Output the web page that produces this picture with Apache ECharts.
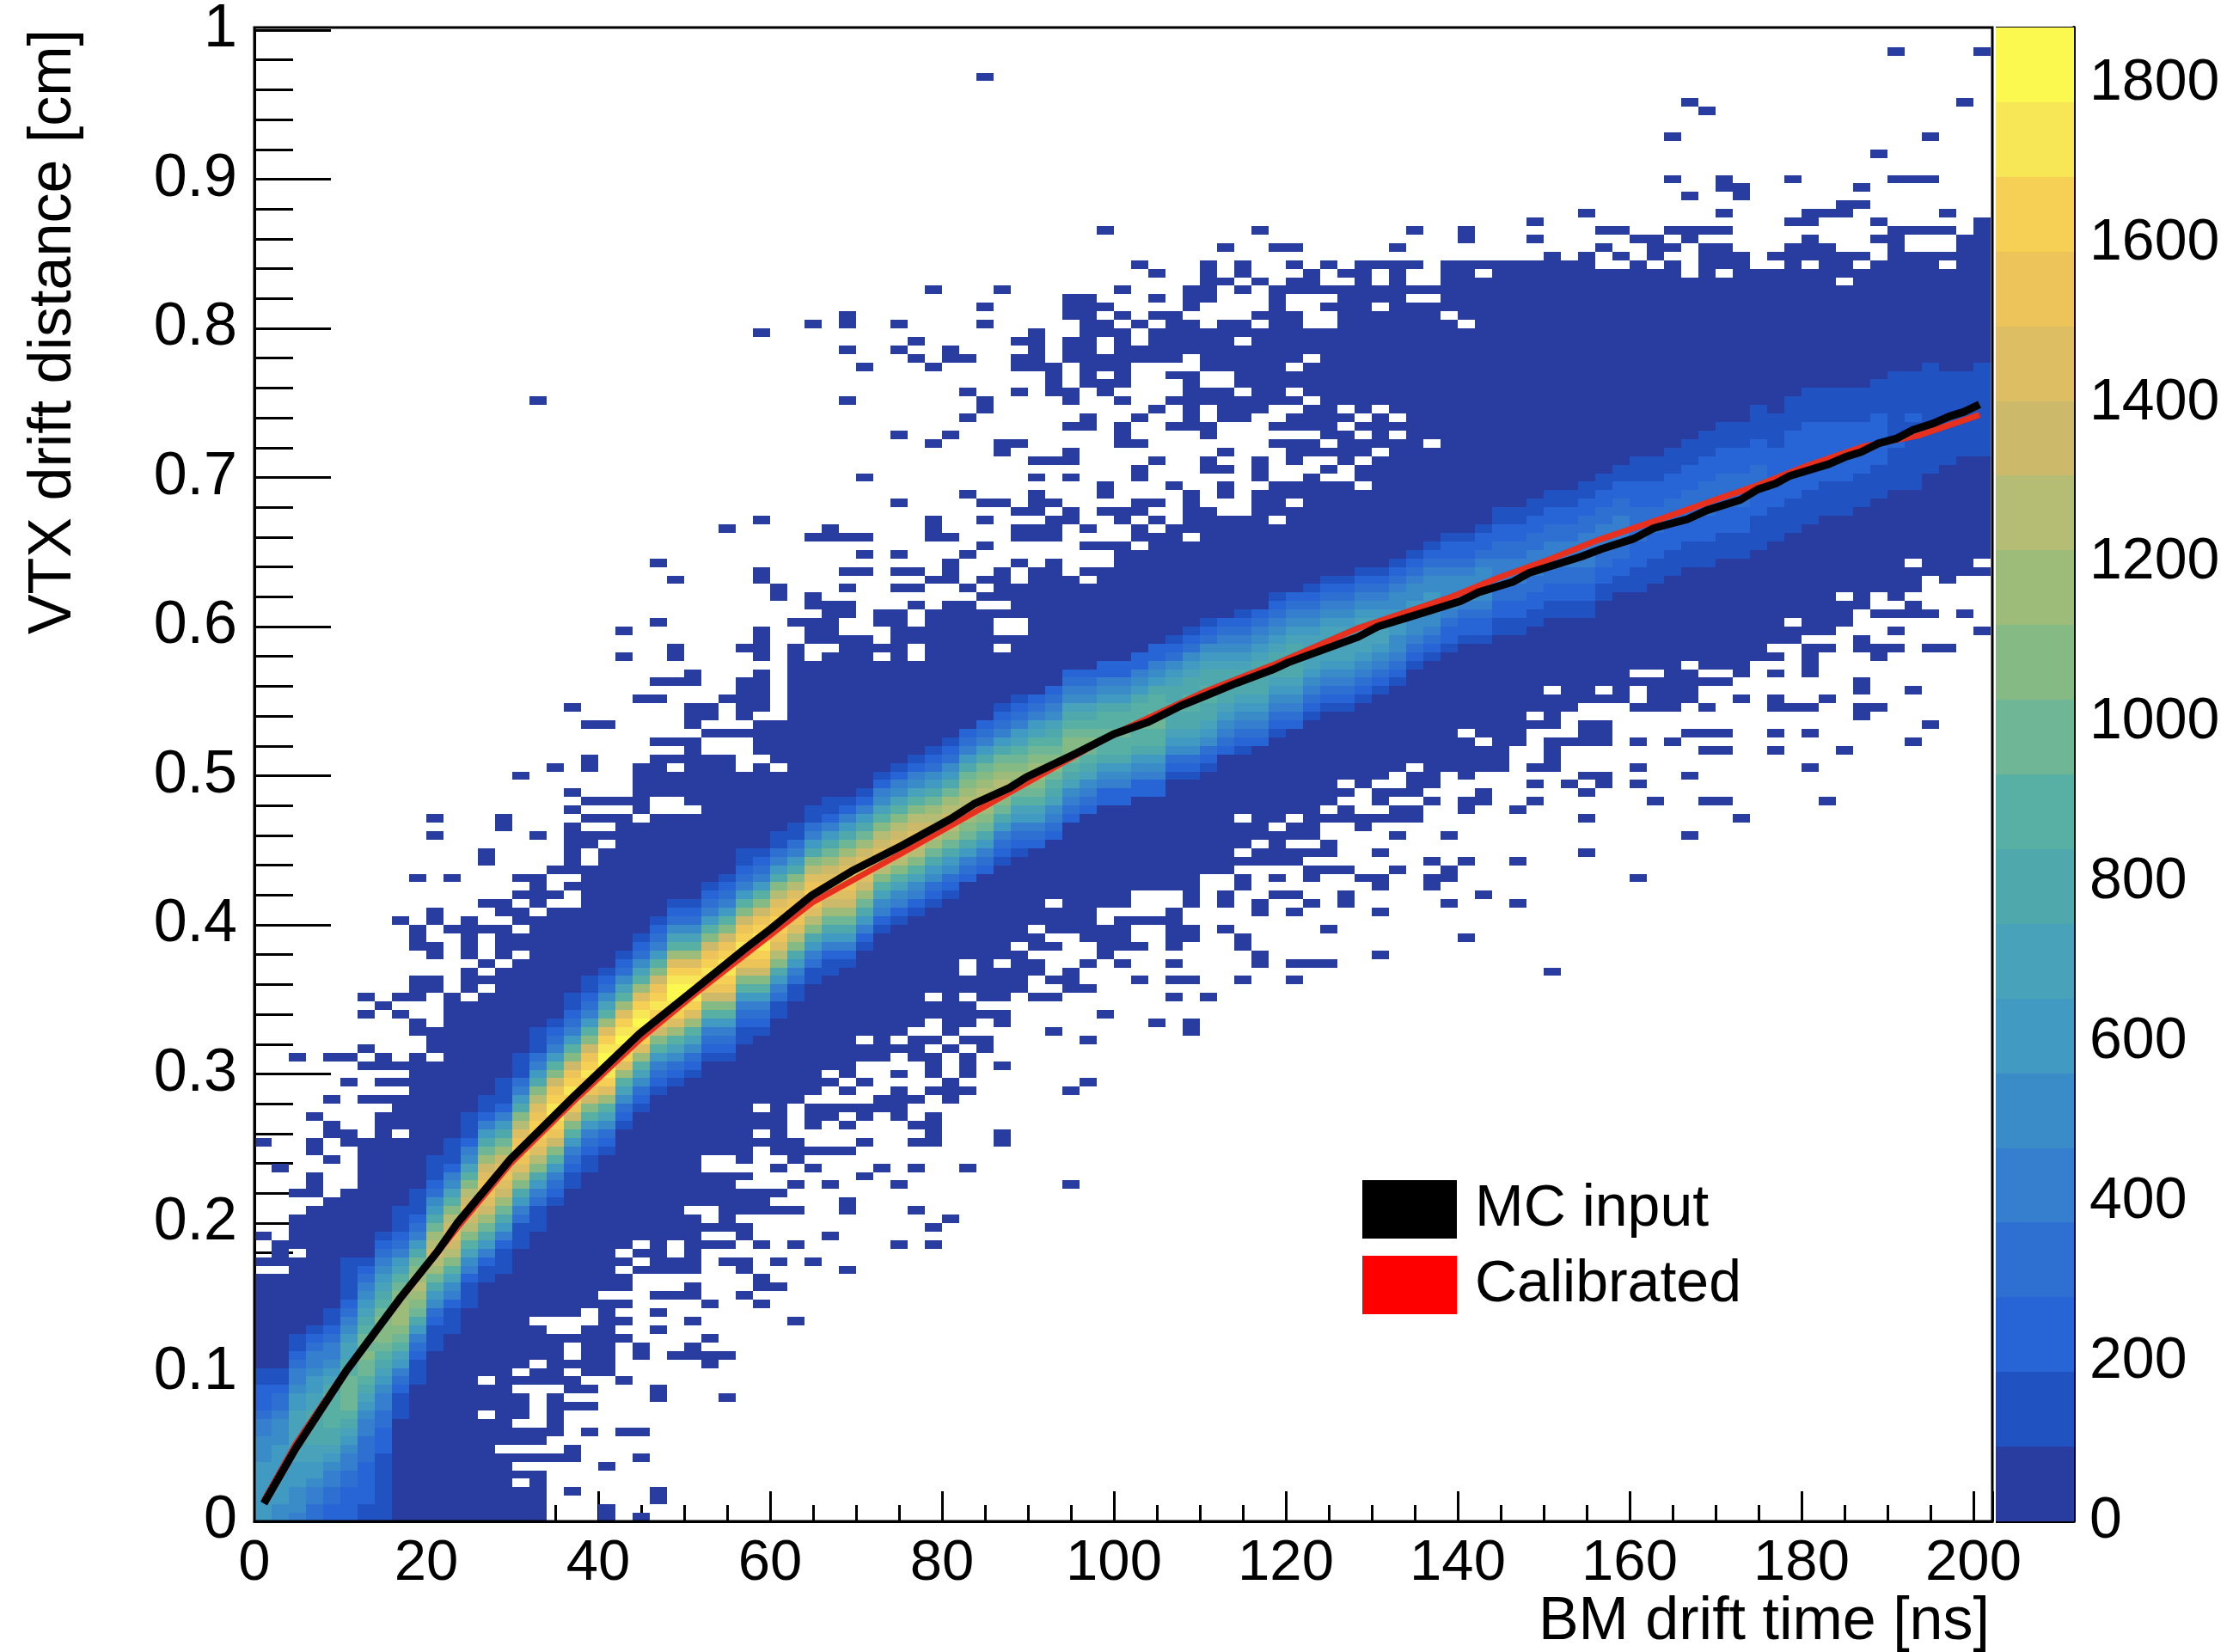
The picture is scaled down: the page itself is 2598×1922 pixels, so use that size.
<!DOCTYPE html>
<html><head><meta charset="utf-8">
<style>html,body{margin:0;padding:0;background:#fff}#c{width:2598px;height:1922px}</style>
<script src="https://cdn.jsdelivr.net/npm/echarts@6/dist/echarts.min.js"></script>
</head><body><div id="c"></div>
<script>
// histogram binning: 2 ns columns, 175 rows over 0..1 cm, 20 colour contours of 93.5 counts
const colWidth = 2, rowCount = 175, contour = 93.5;
const palette = ['#283D9F','#2052C2','#2764D6','#2E70D2','#357FCE','#3A8CC9','#419AC2','#47A2BA','#4FA8AC','#58AFA3',
 '#6EB696','#85BA85','#9DBC7A','#B5BC74','#CDB96A','#DDBE62','#EDC459','#F6D054','#F7E655','#FBF950'];
const xTicks = [0,20,40,60,80,100,120,140,160,180,200];
const zTicks = [0,200,400,600,800,1000,1200,1400,1600,1800];

// lowest / highest row of the solid lowest-contour area, per column
const zeroLow = [0,0,0,0,0,0,0,0,0,0,0,0,0,0,0,0,0,13,15,18,18,27,29,29,29,30,32,30,33,36,38,43,43,43,43,54,54,55,55,56,55,58,59,58,62,70,69,69,68,72,72,74,74,74,74,76,76,77,77,77,77,78,78,82,81,82,82,82,84,84,83,84,88,91,93,93,95,96,96,96,98,95,96,98,98,98,99,101,101,103,104,104,105,107,109,108,109,110,110,111,111];
const zeroHigh = [28,28,35,36,36,39,44,47,49,52,57,61,64,65,68,68,70,71,72,76,78,83,87,88,87,88,89,89,88,93,93,99,103,102,103,103,102,106,104,105,107,107,108,109,109,110,111,110,110,112,113,113,115,116,117,146,145,144,144,144,145,145,144,144,144,144,144,144,144,147,147,145,147,146,146,147,147,147,146,145,146,146,147,146,148,148,148,146,147,148,149,149,148,148,147,150,148,148,148,150,152];

// isolated occupied cells [column,row]
const strayCells = [
[0,33],[1,32],[0,30],[1,30],[1,31],[0,44],[1,41],[2,38],[3,38],[3,39],[3,40],[3,43],[3,44],[4,37],[4,42],[4,45],[4,46],[5,44],[5,45],[3,47],[4,49],[6,49],[7,49],[5,51],[7,51],[8,51],[6,53],[7,53],[8,53],[9,53],[2,54],[4,54],[5,54],[7,54],[9,54],[6,55],[9,57],[9,58],[6,59],[8,59],[7,60],[6,61],[8,61],[9,61],[9,62],[10,62],[9,63],[10,63],[10,66],[10,67],[12,66],[12,67],[12,68],[9,67],[9,68],[9,69],[11,69],[12,69],[13,69],[14,69],[8,70],[10,70],[10,71],[12,70],[15,70],[14,71],[15,71],[13,72],[14,72],[16,72],[15,73],[16,73],[16,74],[17,73],[18,74],[9,75],[11,75],[15,75],[16,75],[17,76],[18,76],[18,77],[13,77],[13,78],[18,78],[18,79],[18,80],[18,81],[19,79],[19,80],[20,80],[10,80],[16,80],[14,81],[10,82],[14,82],[19,82],[20,82],[18,83],[19,84],[20,84],[18,85],[21,84],[15,87],[17,88],[19,88],[22,88],[19,89],[23,89],[24,89],[25,89],[26,89],[25,90],[23,91],[24,91],[25,91],[26,92],[27,92],[28,92],[29,92],[19,93],[20,93],[25,93],[25,94],[26,94],[25,95],[26,95],[18,95],[22,96],[23,96],[27,96],[28,96],[28,95],[28,94],[29,96],[29,95],[29,97],[28,97],[28,98],[29,98],
[23,98],[24,98],[25,98],[25,99],[29,99],[21,101],[24,101],[24,102],[28,102],[29,102],[29,101],[21,104],[29,103],[29,104],[23,105],[30,108],[24,110],[29,110],[23,112],
[31,100],[31,101],[31,102],[32,103],[32,104],[33,103],[33,104],[32,105],[33,105],[31,105],[32,107],[32,108],[33,106],[33,107],[34,106],[34,107],[34,109],[30,109],[34,111],[35,111],[29,111],[35,113],[32,115],[33,115],[34,115],[35,115],[33,116],[27,116],[29,117],
[36,105],[36,106],[38,103],[38,107],[39,106],[37,109],[38,109],[39,110],[40,110],[38,111],[37,111],[40,111],[40,112],[41,109],[42,110],[43,110],[43,111],[44,112],[45,111],[46,112],[48,111],[37,113],[41,113],[42,114],[39,115],[39,116],[39,117],[40,115],[44,115],[44,116],[45,115],[45,116],[46,115],[46,116],[47,117],[47,118],[46,117],[42,117],[48,114],[49,114],[50,114],[48,116],[50,117],[50,118],[51,115],[51,116],[52,117],[51,118],
[29,139],[32,140],[34,140],[34,141],[37,140],[42,140],[34,137],[37,137],[38,138],[38,136],[40,136],[40,137],[41,136],[35,135],[39,135],[34,131],[41,132],[42,130],[42,131],[41,129],[37,127],[40,127],[39,126],[42,142],[39,144],[43,144],[42,119],[43,119],[41,120],[37,119],[35,122],[16,131],[42,169],
[43,125],[43,126],[44,126],[44,118],[45,118],[44,132],[44,135],[44,138],[45,119],[45,120],[45,122],[45,124],[46,124],[47,124],[47,125],[45,135],[45,136],[44,136],[45,137],[45,138],[45,139],[46,119],[46,132],[46,133],[46,134],[46,135],[47,118],[47,122],[47,128],[47,131],[47,132],[47,136],[47,137],[47,138],[47,141],[47,142],[47,143],[48,128],[48,129],[48,133],[48,134],[48,135],[48,136],[48,137],[48,138],[48,139],[48,140],[48,141],[48,142],[48,143],[49,118],[49,120],[49,121],[49,132],[49,133],[49,135],[49,136],[49,139],[49,140],[49,142],[49,151],[50,126],[50,127],[50,128],[50,131],[50,133],[50,134],[50,135],[50,136],[50,137],[50,138],[50,139],[50,141],[50,144],[51,118],[51,119],[51,122],[51,123],[51,126],[51,129],[51,136],[51,137],[51,140],[51,147],[52,119],[52,124],[52,130],[52,136],[52,137],[52,138],[52,139],[52,141],[52,143],[52,146],[53,121],[53,128],[53,131],[53,134],[53,136],[53,137],[53,138],[53,139],[53,140],[53,141],[54,118],[54,119],[54,120],[54,128],[54,129],[54,130],[54,131],[54,132],[54,133],[54,134],[54,137],[54,138],[54,139],[54,140],[54,142],[54,143],[54,144],[55,147],
[56,149],[58,151],[59,149],[60,149],[66,149],[67,151],[70,150],[70,151],[57,146],[57,147],[58,145],[60,147],[61,146],[62,147],[63,146],[64,145],[64,146],[64,147],[65,147],[66,145],[66,146],[66,147],[67,147],[71,147],[73,147],[74,147],[74,150],[74,152],[75,148],[77,148],[77,153],[78,149],[78,151],[79,146],[79,148],[79,151],[80,147],[80,150],[81,148],[81,149],[81,150],[82,149],[82,151],[82,157],[83,150],[83,151],[83,155],[83,166],[84,151],[84,165],[84,149],[85,149],[85,151],[85,153],[85,156],[85,157],[86,155],[86,156],[88,148],[89,149],[89,152],[89,157],[90,150],[90,152],[90,153],[91,153],[92,153],[92,154],[93,154],[93,156],[94,150],[94,152],[94,160],[95,151],[95,157],[95,172],[96,151],[96,157],[97,151],[97,157],[97,162],[98,151],[98,153],[99,166],[100,172],[82,162],[82,149],
// lower side
[14,4],[17,10],[17,11],[17,12],[18,7],[18,8],[17,7],[18,3],[23,2],[23,3],[20,0],[20,1],[22,0],[22,7],[20,6],[19,10],[21,10],[22,10],[19,13],[17,13],[18,13],[19,15],[19,17],[20,17],[21,16],[21,21],[21,23],[21,25],[22,19],[22,20],[23,14],[23,15],[23,22],[23,24],[23,26],[24,19],[24,26],[25,19],[25,20],[25,23],[25,26],[25,27],[25,29],[26,18],[26,19],[26,21],[26,25],[27,14],[27,19],[28,26],[28,29],[28,30],[29,25],[29,27],[29,28],[29,32],[30,27],[30,30],[30,36],[31,23],[31,32],[31,36],[31,39],[31,42],[32,30],[32,41],[33,33],[33,39],[34,29],[34,36],[34,37],[35,40],[36,41],[37,32],[37,39],[38,36],[38,41],[39,32],[39,34],[40,35],[41,41],[47,39],[30,41],
[35,44],[35,47],[35,48],[35,51],[36,48],[36,49],[37,47],[37,48],[37,49],[37,50],[37,52],[38,44],[38,46],[38,49],[38,54],[39,44],[39,45],[39,46],[39,47],[39,50],[39,52],[39,53],[39,54],[40,49],[40,50],[40,51],[41,50],[41,52],[41,53],[41,54],[41,56],[42,55],[42,56],[43,44],[43,45],[43,53],[45,61],[45,64],[45,65],[45,67],[45,68],[46,57],[46,61],[46,63],[46,67],[47,50],[47,62],[47,63],[47,64],[48,51],[48,56],[48,62],[48,65],[49,59],[49,66],[49,67],[49,68],[49,69],[50,65],[50,67],[50,68],[50,69],[50,70],[51,63],[51,67],[51,70],[52,58],[52,70],[53,61],[53,63],[53,65],[53,67],[53,68],[53,69],[53,70],[53,71],[54,57],[54,58],[54,63],[54,68],[54,69],[54,72],[54,73],[55,61],
[56,69],[56,72],[56,73],[57,63],[57,67],[57,68],[57,74],[57,75],[58,65],[58,66],[58,71],[58,72],[59,73],[59,75],[60,63],[60,65],[60,71],[60,73],[61,65],[61,72],[61,75],[61,76],[62,65],[62,69],[62,76],[63,72],[63,73],[63,76],[64,75],[65,66],[65,71],[65,74],[65,75],[65,78],[66,76],[66,80],[68,74],[68,75],[68,77],[69,72],[69,75],[69,76],[69,80],[70,68],[70,77],[71,73],[73,72],[73,77],[73,83],[74,84],[74,88],[75,64],[75,88],[75,89],[75,90],[75,91],[76,91],[77,78],[77,82],[77,85],[77,87],[77,91],[77,92],[77,93],[78,86],[78,87],[78,91],[78,92],[76,86],[74,86],[80,75],[80,86],[80,88],[80,91],[80,95],[81,84],[81,95],[82,91],[82,95],[83,80],[83,87],[83,92],[83,96],[83,97],[84,84],[84,90],[84,92],[84,95],[85,84],[85,90],[85,92],[86,82],[86,96],[87,103],[88,90],[88,92],[88,95],[88,96],[88,99],[89,95],[90,88],[90,92],[90,95],[90,99],[90,100],[90,101],[90,102],[91,84],[91,96],[91,102],[92,90],[93,94],[93,95],[93,97],[93,98],[93,102],[93,103],[94,95],[94,101],[94,102],[94,106],[95,102],[95,104],[95,106],[96,91],[96,97],[96,106],[96,107],[97,93],[97,102],[97,106],[98,102],[99,106],[100,104],[82,91],[82,95],[78,93]
];

// empty cells inside the solid area [column,row]
const holeCells = [
[1,29],[2,31],[5,39],[5,45],[6,45],[8,45],[10,54],[12,61],[13,62],[13,64],[14,65],[15,66],[17,72],[18,72],[20,79],[21,83],[22,82],[23,83],[23,84],[24,83],[24,84],[25,83],[13,12],[13,16],[14,8],[15,8],[16,8],[15,6],[15,4],[16,6],[16,12],[16,13],[16,14],[15,11],[16,11],[15,15],[16,15],[17,15],[15,17],[16,18],[16,23],[17,22],[17,23],[18,22],[18,23],[18,19],[18,20],[18,17],[19,23],[19,24],[20,26],[21,31],[21,29],[22,30],[22,32],[24,31],[24,32],[26,33],[27,31],[25,36],[26,35],[26,36],[28,35],[26,33],[27,33],[26,42],[27,42],[26,41],[27,41],[28,41],[28,39],[29,39],[29,40],[29,41],[29,42],[29,43],[30,39],[30,40],[30,42],[29,45],[29,48],[31,45],[31,46],[31,47],[31,48],[32,44],[32,45],[32,49],[33,44],[33,45],[33,46],[33,49],[33,50],[33,52],[34,44],[34,45],[34,47],[34,49],[34,51],[35,56],[37,56],[38,57],[39,57],[39,58],[39,61],[40,56],[41,55],[41,61],[41,64],[41,65],[42,60],[43,60],[43,65],[44,67],[46,72],[49,70],[49,71],[50,71],[51,73],
[25,92],[26,90],[26,91],[27,90],[27,91],[28,88],[28,89],[29,89],[29,94],[30,88],[38,101],[38,102],[36,101],[32,101],[32,102],[33,102],[38,105],[42,107],[43,107],[43,105],[43,104],[44,104],[44,105],[43,102],[47,111],[48,110],[49,112],[51,114],[54,115],[52,116],[36,103],
[55,140],[55,141],[55,142],[56,141],[56,142],[56,143],[56,144],[57,141],[57,142],[57,143],[58,142],[58,143],[58,144],[58,140],[60,142],[60,143],[61,142],[61,143],[62,143],[61,140],[61,141],[62,140],[62,141],[65,142],[67,143],[68,143],[69,141],[70,140],[57,138],[61,136],[60,135],[55,133],[55,134],[56,133],[56,134],[57,132],[60,132],[59,129],[59,130],[60,130],[61,131],[55,129],[55,130],[58,128],[58,129],[63,130],[64,129],[65,130],[66,129],[63,128],[59,127],[60,127],[61,127],[56,127],[56,128],[56,126],[57,126],[57,127],[57,128],[58,126],[58,127],[64,127],[66,127],[62,126],[68,126],[55,125],[55,126],[57,122],[57,123],[57,124],[57,125],[58,125],[59,124],[59,125],[65,125],[64,124],[61,124],[62,124],[56,124],[60,123],[61,123],[59,122],[59,123],[60,122],[62,122],[63,122],[63,123],[55,121],[55,122],[56,122],[57,121],[58,121],[64,121],[55,120],[56,119],[56,118],[57,118],[57,119],[57,120],[55,119],[60,119],[59,117],
[71,146],[71,147],[83,146],[85,146],[88,147],[90,147],[92,145],[93,147],[98,147],[94,148],[94,149],
[45,69],[63,84],[63,86],[64,84],[64,85],[64,83],[65,83],[65,86],[66,84],[66,86],[66,87],[67,84],[67,88],[68,85],[69,84],[69,85],[69,86],[69,87],[70,85],[70,86],[70,92],[71,86],[71,87],[71,91],[62,83],[62,80],[62,81],[57,82],[60,82],[59,81],[58,79],[60,79],[61,79],[57,78],[74,94],[75,97],[80,96],[80,97],[80,99],[81,99],[84,99],[85,99],[83,100],[88,102],[87,103],[89,105],[92,108],[97,110],[96,112],[100,112],[78,97]
];

// contour level per row for the populated band: first row and one character per row (0-9,a-j = contour)
const bandStart = [0,0,0,0,0,0,0,0,12,16,20,22,25,28,29,32,34,37,39,41,43,46,48,50,51,52,54,54,56,57,59,61,63,64,65,67,69,70,71,72,73,75,76,77,78,79,80,82,83,84,84,85,85,87,87,88,90,90,91,92,93,94,95,95,96,97,98,100,101,102,103,103,104,104,105,106,106,106,108,109,109,110,111,112,112,113,113,114,115,116,117,118,118,119,120,121,121,123,124,125,125];
const bandLevels = [
"666666655544322211","556666666555433211","4555666777777665443211","33445667788887766544321","2233445678899998765443211","2222334456789aaaa98776543211111",
"11222223334456789aabaa987654321","1111111122233445678 9abbba987654321".replace(/ /g,''),"11123467 9abcccba976432111".replace(/ /g,''),
"11123468abcdcba86432111","11123568acdedca86532111","11124579bdefedb97542111","11124579bdefedb97542111","112468acefggfeca864211","1112468acefgfeca8642111",
"1113468bdfghgfdb8643111","1113468bdfghhgfdb8643111","123469beghiihgeb964321","1123469beghihgeb9643211","1123469beghihgeb9643211","123579cfhijjihfc975321",
"123579cfhijihfc975321","123579cfhijihfc975321","123469beghihgeb964321","123579cfhijjihfc975321","123579cfhijihfc975321","123469beghihgeb964321","123469beghiihgeb964321",
"1123469beghihgeb9643211","123469beghiihgeb964321","113468bdfghhgfdb864311","113468bdfghgfdb864311","113468bdfghgfdb864311","112468acefgfeca864211","12468acefggfeca86421",
"12468acefgfeca86421","124579bdefedb975421","124579bdefedb975421","124579bdefedb975421","123568acdedca865321","123568acdedca865321","23468abcddcba86432","23468abcddcba86432",
"123468abcdcba864321","1234679abcba9764321","234679abccba976432","2345789abba9875432","2345789abba9875432","2345789aba9875432","22456899a99865422","22456899a99865422",
"22456899a99865422","22456899aa99865422","12356788988765321","123567889988765321","123567889988765321","2345678888765432","12345678887654321","2345678888765432","12345678887654321",
"2345678888765432","1234567777654321","1234567777654321","1234567777654321","1234567777654321","123456777654321","123455666554321","12345566554321","12345566554321","12234555543221",
"1223455543221","12234555543221","112233444332211","112233444332211","112233444332211","112233444332211","112233444332211","1122334444332211","112233444332211","112233444332211",
"1112223333222111","111222333222111","111222333222111","111222333222111","1112223333222111","1112223333222111","1112223333222111","11112223332221111","111122222221111",
"1111222222221111","1111222222221111","111122222221111","111122222221111","11112222221111","11112222221111","11111211111111","11111111211111","1111111111111","11111111111","1111111111","11111111111"
];

// curves
const mcX = [1.1,4.8,10.7,17,21.3,23.6,29.8,37,44.8,51.3,57.3,60,64.9,69.5,75.3,81,83.7,87.9,89.8,95.6,100,104,107.8,110.4,114.2,118.4,120.3,128.4,130.7,134.1,140.3,142.4,146.4,148.3,154.4,156.7,160.5,162.8,166.7,169,172.9,174.9,177,178.6,183.2,185.2,186.9,189,191,193,195.2,197.2,198.9,200.7];
const mcY = [.012,.049,.101,.150,.181,.2,.243,.284,.327,.357,.385,.397,.420,.436,.453,.471,.481,.492,.499,.515,.528,.536,.547,.553,.562,.571,.576,.593,.6,.606,.617,.623,.63,.636,.647,.652,.659,.666,.672,.678,.685,.692,.696,.701,.709,.714,.717,.723,.726,.732,.736,.741,.744,.749];
const calX = [1.1,4.8,10.7,17,23.6,29.8,37,44.8,51.3,57.3,64.9,75.3,87.9,100,110.4,118.4,128.4,139.3,144.8,150.6,156.3,164,170.4,174.5,180.7,187.3,193.5,200.7];
const calY = [.014,.052,.102,.149,.197,.240,.281,.323,.354,.381,.415,.448,.489,.528,.556,.574,.599,.62,.633,.645,.658,.673,.686,.694,.708,.721,.728,.742];

// ---- assemble cells
const LEVEL = '0123456789abcdefghij';
const grid = new Map();
const key = (c,r)=>c*1000+r;
zeroLow.forEach((lo,c)=>{ for(let r=lo;r<=zeroHigh[c];r++) grid.set(key(c,r),0); });
holeCells.forEach(([c,r])=>grid.delete(key(c,r)));
strayCells.forEach(([c,r])=>grid.set(key(c,r),0));
bandLevels.forEach((s,c)=>{ for(let i=0;i<s.length;i++){ grid.set(key(c,bandStart[c]+i), LEVEL.indexOf(s[i])); } });
const cells = [];
grid.forEach((lev,k)=>{ const c=Math.floor(k/1000), r=k%1000; cells.push([c*colWidth, r/rowCount, (lev+0.5)*contour]); });
const barCells = palette.map((p,i)=>[i*contour,(i+1)*contour]);

const FONT = '"Liberation Sans", Arial, sans-serif';
const BLK = '#000';
function renderCell(params, api){
  const p0 = api.coord([api.value(0), api.value(1)]);
  const p1 = api.coord([api.value(0)+colWidth, api.value(1)+1/rowCount]);
  const x0=Math.round(p0[0]), x1=Math.round(p1[0]), y0=Math.round(p0[1]), y1=Math.round(p1[1]);
  const lev=Math.min(palette.length-1,Math.floor(api.value(2)/contour));
  return {type:'rect',shape:{x:x0,y:y1,width:x1-x0,height:y0-y1},style:{fill:palette[lev]},silent:true};
}
function renderBar(params, api){
  const p0 = api.coord([0, api.value(0)]);
  const p1 = api.coord([1, api.value(1)]);
  const y0=Math.round(p0[1]), y1=Math.round(p1[1]);
  return {type:'rect',shape:{x:p0[0],y:y1,width:p1[0]-p0[0],height:y0-y1},style:{fill:palette[params.dataIndex]},silent:true};
}
const chart = echarts.init(document.getElementById('c'),null,{renderer:'canvas'});
chart.setOption({
  animation:false, backgroundColor:'#fff',
  grid:[{left:296,top:32,width:2022,height:1738,show:false},{left:2322,top:32,width:91,height:1738,show:false}],
  xAxis:[
    {type:'value',gridIndex:0,min:0,max:202.2,interval:20,
     axisLine:{show:true,onZero:false,lineStyle:{color:BLK,width:3}},
     axisTick:{show:true,inside:true,length:35,lineStyle:{color:BLK,width:3}},
     minorTick:{show:true,splitNumber:4,length:19,lineStyle:{color:BLK,width:3}},
     axisLabel:{show:true,fontFamily:FONT,fontSize:67,color:BLK,margin:16,hideOverlap:false,
       formatter:v=>xTicks.includes(v)?String(v):''},
     splitLine:{show:false},minorSplitLine:{show:false}},
    {type:'value',gridIndex:1,min:0,max:1,show:false}
  ],
  yAxis:[
    {type:'value',gridIndex:0,min:0,max:1,interval:0.1,
     axisLine:{show:true,onZero:false,lineStyle:{color:BLK,width:3}},
     axisTick:{show:true,inside:true,length:89,lineStyle:{color:BLK,width:3}},
     minorTick:{show:true,splitNumber:5,length:45,lineStyle:{color:BLK,width:3}},
     axisLabel:{show:true,fontFamily:FONT,fontSize:70,color:BLK,margin:20,hideOverlap:false,showMaxLabel:true,showMinLabel:true,
       padding:[12,0,0,0],formatter:v=>String(Math.round(v*10)/10)},
     splitLine:{show:false},minorSplitLine:{show:false}},
    {type:'value',gridIndex:1,min:0,max:1870,interval:200,position:'right',
     axisLine:{show:true,onZero:false,lineStyle:{color:BLK,width:4}},
     axisTick:{show:true,inside:true,length:91,lineStyle:{color:BLK,width:3}},
     minorTick:{show:false},
     axisLabel:{show:true,fontFamily:FONT,fontSize:68,color:BLK,margin:18,hideOverlap:false,
       padding:[12,0,0,0],formatter:v=>zTicks.includes(v)?String(v):''},
     splitLine:{show:false}}
  ],
  legend:{show:true,orient:'vertical',left:1580,top:1368,itemWidth:110,itemHeight:68,itemGap:20,icon:'rect',
    data:['MC input','Calibrated'],
    textStyle:{fontFamily:FONT,fontSize:68,color:BLK,padding:[0,0,0,16]}},
  series:[
    {type:'custom',name:'VTX vs BM',xAxisIndex:0,yAxisIndex:0,data:cells,renderItem:renderCell,encode:{x:0,y:1},clip:true,silent:true,z:1,progressive:0,animation:false},
    {type:'line',name:'Calibrated',xAxisIndex:0,yAxisIndex:0,data:calX.map((x,i)=>[x,calY[i]]),showSymbol:false,symbol:'none',
      itemStyle:{color:'#FF0000'},lineStyle:{color:'#E8301F',width:7},z:3,silent:true},
    {type:'line',name:'MC input',xAxisIndex:0,yAxisIndex:0,data:mcX.map((x,i)=>[x,mcY[i]]),showSymbol:false,symbol:'none',
      itemStyle:{color:'#000'},lineStyle:{color:'#000',width:9,cap:'butt',join:'round'},z:4,silent:true},
    {type:'custom',name:'scale',xAxisIndex:1,yAxisIndex:1,data:barCells,renderItem:renderBar,encode:{y:[0,1]},silent:true,z:1,progressive:0}
  ],
  graphic:[
    {type:'rect',z:5,shape:{x:296,y:32,width:2022,height:1738},style:{fill:'none',stroke:BLK,lineWidth:3},silent:true},
    {type:'text',z:6,x:2315,y:1888,style:{text:'BM drift time [ns]',font:'70px '+FONT,fill:BLK,textAlign:'right',textVerticalAlign:'middle'},silent:true},
    {type:'text',z:6,x:63,y:34,rotation:Math.PI/2,style:{text:'VTX drift distance [cm]',font:'70px '+FONT,fill:BLK,textAlign:'right',textVerticalAlign:'middle'},silent:true}
  ]
});
</script></body></html>
